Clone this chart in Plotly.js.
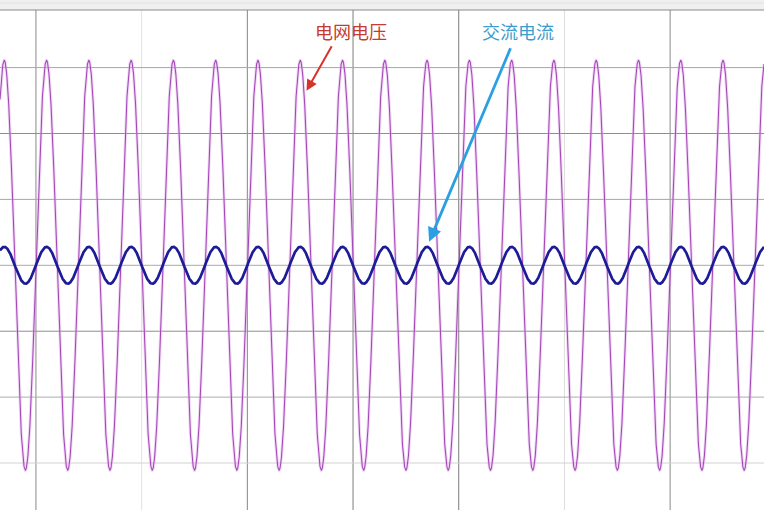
<!DOCTYPE html>
<html>
<head>
<meta charset="utf-8">
<script src="https://cdn.plot.ly/plotly-3.0.1.min.js"></script>
<style>
  html, body { margin: 0; padding: 0; background: #f0f0f0; }
  #scope { width: 764px; height: 510px; }
</style>
</head>
<body>
<div id="scope"></div>
<script>
// Channel labels
const channelNames = ['电网电压', '交流电流'];
// Peak value of each channel on the shared vertical scale (100 per division)
const channelPeaks = [311, 28];
// Phase of each channel relative to the grid voltage, degrees
const channelPhaseDeg = [0, 0];
const channelColors = ['#a446b8', '#1c1c96'];
const channelWidths = [1.05, 2.7];

// Mains frequency and visible time window (ms)
const mainsHz = 50;
const timeWindowMs = [-17.0, 344.4];
const sampleStepMs = 0.05;

// Screen divisions
const timeDivsMs = [0, 50, 100, 150, 200, 250, 300];
const timeDivShades = ['#8a8a8a', '#e2e2e2', '#858585', '#7c7c7c', '#7c7c7c', '#dedede', '#8a8a8a'];
const levelDivs = [300, 200, 100, 0, -100, -200, -300];
const levelDivShades = ['#a6a6a6', '#8e8e8e', '#a6a6a6', '#ababab', '#8e8e8e', '#acacac', '#d2d2d2'];
const levelWindow = [-371.3, 387.4];

// Build the sampled time axis
const t = [];
for (let ms = timeWindowMs[0]; ms <= timeWindowMs[1] + 1e-9; ms += sampleStepMs) t.push(+ms.toFixed(3));

function waveform(peak, phaseDeg) {
  const w = 2 * Math.PI * mainsHz / 1000;
  const ph = phaseDeg * Math.PI / 180;
  return t.map(ms => peak * Math.sin(w * ms + ph));
}

const traces = [];
// soft halo under the voltage trace
traces.push({
  x: t, y: waveform(channelPeaks[0], channelPhaseDeg[0]),
  mode: 'lines', line: { color: 'rgba(222,168,232,0.45)', width: 3.0 },
  hoverinfo: 'skip', showlegend: false
});
channelNames.forEach((name, i) => {
  traces.push({
    x: t, y: waveform(channelPeaks[i], channelPhaseDeg[i]),
    name: name, mode: 'lines',
    line: { color: channelColors[i], width: channelWidths[i] },
    showlegend: false
  });
});

const shapes = [];
// faint rule in the header strip
shapes.push({ type: 'line', xref: 'paper', yref: 'paper', x0: 0, x1: 1, y0: 1.014, y1: 1.014,
  line: { color: '#e0e0e0', width: 1 } });
timeDivsMs.forEach((ms, i) => shapes.push({
  type: 'line', xref: 'x', yref: 'paper', x0: ms, x1: ms, y0: 0, y1: 1,
  line: { color: timeDivShades[i], width: 1 }, layer: 'below'
}));
levelDivs.forEach((v, i) => shapes.push({
  type: 'line', xref: 'paper', yref: 'y', x0: 0, x1: 1, y0: v, y1: v,
  line: { color: levelDivShades[i], width: 1 }, layer: 'below'
}));
// top border of the screen
shapes.push({ type: 'line', xref: 'paper', yref: 'paper', x0: 0, x1: 1, y0: 1, y1: 1,
  line: { color: '#8c8c8c', width: 1.2 } });

const labelFont = { family: '"Noto Sans CJK SC", "Noto Sans", sans-serif', size: 18 };

const annotations = [
  { x: 149.2, y: 354.8, xref: 'x', yref: 'y', text: channelNames[0], showarrow: false,
    font: Object.assign({}, labelFont, { color: '#c63b2f' }) },
  { x: 228.1, y: 354.8, xref: 'x', yref: 'y', text: channelNames[1], showarrow: false,
    font: Object.assign({}, labelFont, { color: '#3b9dcc' }) },
  { x: 128.0, y: 264.8, xref: 'x', yref: 'y', text: '', showarrow: true,
    ax: 26, ay: -46, arrowhead: 2, arrowsize: 1.1, arrowwidth: 2, arrowcolor: '#d8332a' },
  { x: 186.0, y: 35.8, xref: 'x', yref: 'y', text: '', showarrow: true,
    ax: 82, ay: -195, arrowhead: 2, arrowsize: 1, arrowwidth: 2.8, arrowcolor: '#2aa0e2' }
];

const layout = {
  width: 764, height: 510,
  margin: { l: 0, r: 0, t: 10, b: 0, pad: 0 },
  paper_bgcolor: '#f0f0f0', plot_bgcolor: '#ffffff',
  xaxis: { range: timeWindowMs, showgrid: false, zeroline: false, showticklabels: false, ticks: '', showline: false, fixedrange: true },
  yaxis: { range: levelWindow, showgrid: false, zeroline: false, showticklabels: false, ticks: '', showline: false, fixedrange: true },
  shapes: shapes,
  annotations: annotations,
  showlegend: false
};

Plotly.newPlot('scope', traces, layout, { displayModeBar: false, staticPlot: true });
</script>
</body>
</html>
